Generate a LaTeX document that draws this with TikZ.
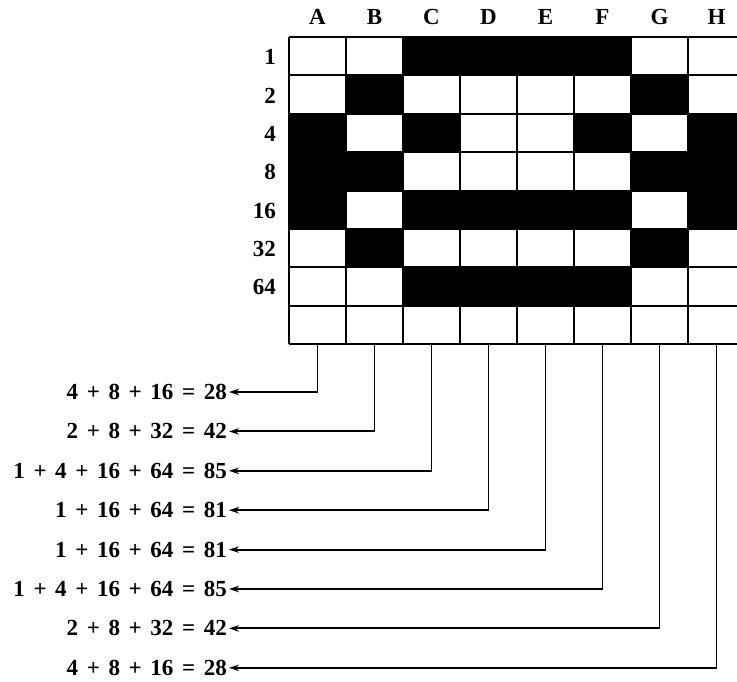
\documentclass[tikz,border=0pt]{standalone}
\usepackage{fontspec}
\setmainfont{Liberation Serif}[WordSpace=1.5]
\usetikzlibrary{arrows.meta,calc}

\tikzset{
  racs/.style={line width=2pt},
  felirat/.style={font=\bfseries\fontsize{23}{25}\selectfont, inner sep=1pt},
  osszegfel/.style={felirat, anchor=east, inner sep=2pt},
  nyil/.style={line width=1.9pt, -{Stealth[length=10pt,width=6.5pt]}}
}

\begin{document}
\begin{tikzpicture}[x=1pt,y=-1pt]
    \useasboundingbox (0,0) rectangle (737,681);
    \clip (0,0) rectangle (737,681);

    % Fekete cellák (oszlop/sor)
    \foreach \c/\r in {2/0,3/0,4/0,5/0, 1/1,6/1, 0/2,2/2,5/2,7/2, 0/3,1/3,6/3,7/3,
                       0/4,2/4,3/4,4/4,5/4,7/4, 1/5,6/5, 2/6,3/6,4/6,5/6}
        \fill[black] (289+57*\c,37+38.4*\r) rectangle ++(57,38.4);

    % Rácsvonalak
    \foreach \i in {0,...,8}
        \draw[racs] (289+57*\i,37) -- (289+57*\i,344.2);
    \foreach \j in {0,...,8}
        \draw[racs] (289,37+38.4*\j) -- (745,37+38.4*\j);

    % Oszlopok betűi
    \foreach \l [count=\i from 0] in {A,B,C,D,E,F,G,H}
        \node[felirat] (fej\l) at (317.5+57*\i,17) {\l};

    % Sorok értékei
    \foreach \v [count=\j from 0] in {1,2,4,8,16,32,64}
        \node[felirat, anchor=east] (sor\v) at (277,57+38.4*\j) {\v};

    % Oszlopösszegek nyilakkal
    \foreach \t [count=\i from 0] in {4 + 8 + 16 = 28, 2 + 8 + 32 = 42,
            1 + 4 + 16 + 64 = 85, 1 + 16 + 64 = 81, 1 + 16 + 64 = 81,
            1 + 4 + 16 + 64 = 85, 2 + 8 + 32 = 42, 4 + 8 + 16 = 28} {
        \node[osszegfel] (osszeg\i) at (229,392+39.4*\i) {\t};
        \coordinate (also\i) at (317.5+57*\i,344.2);
        \draw[nyil] (also\i) |- (osszeg\i.east);
    }

\end{tikzpicture}
\end{document}
